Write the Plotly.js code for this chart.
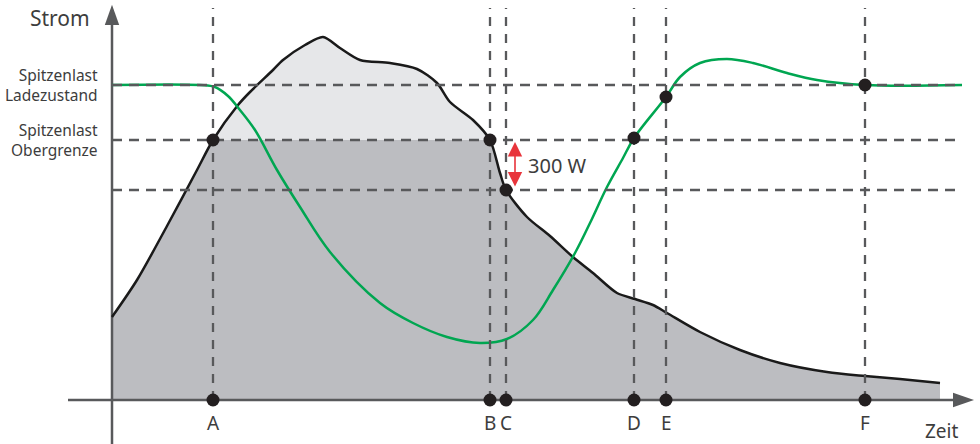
<!DOCTYPE html>
<html>
<head>
<meta charset="utf-8">
<script src="https://cdn.plot.ly/plotly-3.0.1.min.js"></script>
<style>html,body{margin:0;padding:0;background:#fff;}#chart{width:980px;height:444px;}</style>
</head>
<body>
<div id="chart"></div>
<script>
// Load curve (Strom)
const curveX = [0, 2.5, 5.5, 8.5, 10.1, 12.6, 13.8, 16.1, 17.1, 19.3, 21.1, 22.8, 24.8, 27.8, 30.5, 32.5, 33.8, 36.1, 37.8, 38.8, 39.4, 41.5, 43.8, 46.1, 48.1, 50.5, 52.3, 54.1, 55.5, 58.8, 62.8, 66.8, 71.5, 75.3, 78.8, 82.8];
const curveY = [498, 720, 1044, 1380, 1560, 1770, 1848, 1980, 2040, 2130, 2178, 2112, 2040, 2022, 1986, 1902, 1788, 1680, 1560, 1362, 1260, 1098, 984, 858, 762, 642, 606, 570, 522, 408, 300, 222, 168, 144, 126, 102];
// Charge state curve (green)
const greenX = [0, 8.8, 10.3, 11.6, 12.8, 14.3, 16.5, 18.8, 21.8, 26.8, 30.1, 33.5, 36.8, 39.5, 42.1, 44.1, 46.3, 47.8, 49.5, 51.1, 52.2, 55.4, 56.8, 58.8, 61.5, 64.1, 67.5, 70.5, 75.3, 85];
const greenY = [1890, 1890, 1878, 1824, 1740, 1620, 1380, 1158, 888, 582, 462, 378, 342, 366, 480, 660, 882, 1062, 1278, 1452, 1572, 1818, 1938, 2022, 2046, 2022, 1962, 1920, 1890, 1890];
// Events
const eventNames = ['A', 'B', 'C', 'D', 'E', 'F'];
const eventX = [10.1, 37.8, 39.4, 52.2, 55.4, 75.3];
const eventDotY = [1560, 1560, 1260, 1572, 1818, 1890];
// Levels
const levelY = [1890, 1560, 1260];
const levelLabels = ['Spitzenlast<br>Ladezustand', 'Spitzenlast<br>Obergrenze'];
const levelLabelY = [1890, 1560];
const deltaLabel = '300 W';
const xTitle = 'Zeit';
const yTitle = 'Strom';

// geometry (px mapping: x = (px-112)/10, y = (400-py)*6)
const X_RANGE = [-11.2, 86.8];
const Y_RANGE = [-264, 2400];
const GRID_TOP = 2352, GRID_RIGHT = 85;
const FONT = 'Noto Sans, Open Sans, sans-serif';
const TXT = '#3d3d3d';
const DASH = '#58595b';

const upperIdx = curveX.map((v, i) => i).filter(i => curveX[i] >= eventX[0] && curveX[i] <= eventX[1]);

const vx = [], vy = [];
eventX.forEach(x => { vx.push(x, x, null); vy.push(0, GRID_TOP, null); });
const hx = [], hy = [];
levelY.forEach(y => { hx.push(0, GRID_RIGHT, null); hy.push(y, y, null); });

const traces = [
  {x: curveX, y: curveY, mode: 'lines', fill: 'tozeroy', fillcolor: '#bcbdc1',
   line: {width: 0, shape: 'spline', smoothing: 0.8, color: 'rgba(0,0,0,0)'}},
  {x: upperIdx.map(i => curveX[i]), y: upperIdx.map(i => curveY[i]), mode: 'lines', fill: 'toself', fillcolor: '#e6e7e9',
   line: {width: 0, shape: 'spline', smoothing: 0.8, color: 'rgba(0,0,0,0)'}},
  {x: [X_RANGE[0] + 6.8, 84.5], y: [0, 0], mode: 'lines', line: {color: DASH, width: 2.5}},
  {x: [0, 0], y: [Y_RANGE[0], 2250], mode: 'lines', line: {color: DASH, width: 2.5}},
  {x: curveX, y: curveY, mode: 'lines', line: {color: '#1a1a1a', width: 2.5, shape: 'spline', smoothing: 0.8}},
  {x: greenX, y: greenY, mode: 'lines', line: {color: '#00a651', width: 2.5, shape: 'spline', smoothing: 1}},
  {x: vx, y: vy, mode: 'lines', line: {color: DASH, width: 2.3, dash: '9px,8px'}},
  {x: hx, y: hy, mode: 'lines', line: {color: DASH, width: 2.3, dash: '10px,7px'}},
  {x: eventX.concat(eventX), y: eventDotY.concat(eventX.map(() => 0)), mode: 'markers',
   marker: {color: '#231f20', size: 13}}
];

const annotations = [];
eventNames.forEach((n, i) => annotations.push({x: eventX[i], y: 0, xref: 'x', yref: 'y', text: n, showarrow: false,
  yshift: -23, xanchor: 'center', yanchor: 'middle', font: {family: FONT, size: 19, color: TXT}}));
levelLabels.forEach((t, i) => annotations.push({x: 100 / 980, xref: 'paper', y: levelLabelY[i], yref: 'y', text: t,
  showarrow: false, xanchor: 'right', yanchor: 'middle', align: 'right', font: {family: FONT, size: 15.5, color: TXT}}));
annotations.push({x: 59.5 / 980, y: 1 - 18 / 444, xref: 'paper', yref: 'paper', text: yTitle, showarrow: false,
  xanchor: 'center', yanchor: 'middle', font: {family: FONT, size: 21, color: TXT}});
annotations.push({x: 941 / 980, y: 1 - 431 / 444, xref: 'paper', yref: 'paper', text: xTitle, showarrow: false,
  xanchor: 'center', yanchor: 'middle', font: {family: FONT, size: 19, color: TXT}});
const arrowX = 40.3;
annotations.push({x: arrowX, y: levelY[1] - 12, ax: arrowX, ay: levelY[2] + 12, xref: 'x', yref: 'y', axref: 'x', ayref: 'y',
  text: '', showarrow: true, arrowhead: 2, startarrowhead: 2, arrowside: 'end+start', arrowwidth: 1.6, arrowsize: 1.8,
  startarrowsize: 1.8, arrowcolor: '#e8343b', standoff: 0, startstandoff: 0});
annotations.push({x: 44.5, y: (levelY[1] + levelY[2]) / 2, xref: 'x', yref: 'y', text: deltaLabel, showarrow: false,
  xanchor: 'center', yanchor: 'middle', font: {family: FONT, size: 20, color: TXT}});

const shapes = [
  {type: 'path', xref: 'x', yref: 'y', path: 'M 86.2,0 L 84.1,44 L 84.1,-44 Z', fillcolor: DASH, line: {width: 0}, layer: 'above'},
  {type: 'path', xref: 'x', yref: 'y', path: 'M 0,2372 L 0.72,2250 L -0.72,2250 Z', fillcolor: DASH, line: {width: 0}, layer: 'above'}
];

const layout = {
  width: 980, height: 444, margin: {l: 0, r: 0, t: 0, b: 0},
  paper_bgcolor: '#fff', plot_bgcolor: '#fff', showlegend: false,
  xaxis: {range: X_RANGE, visible: false, fixedrange: true},
  yaxis: {range: Y_RANGE, visible: false, fixedrange: true},
  annotations: annotations, shapes: shapes, hovermode: false
};
Plotly.newPlot('chart', traces, layout, {displayModeBar: false, staticPlot: true});
</script>
</body>
</html>
